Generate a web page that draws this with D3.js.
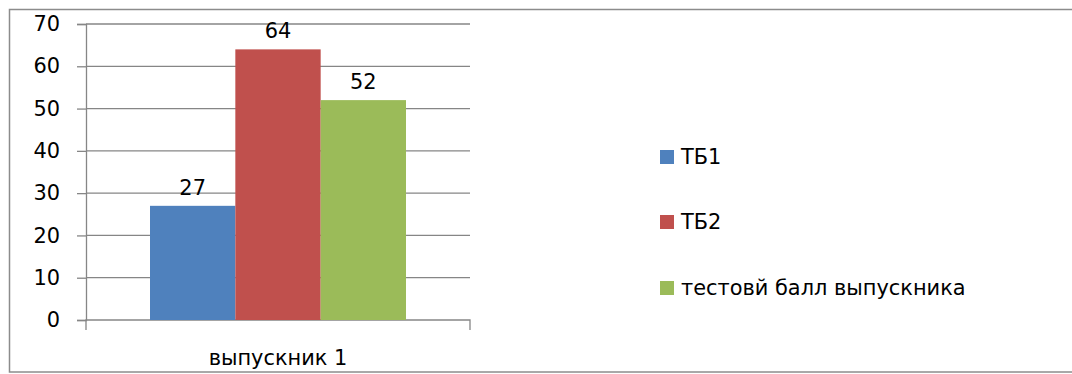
<!DOCTYPE html>
<html>
<head>
<meta charset="utf-8">
<script src="https://cdn.jsdelivr.net/npm/d3@7"></script>
<style>
  html, body { margin: 0; padding: 0; background: #fff; }
  svg { display: block; }
</style>
</head>
<body>
<svg id="chart" width="1072" height="374"></svg>
<script>
// Data
const categories = ["выпускник 1"];
const seriesNames = ["ТБ1", "ТБ2", "тестовй балл выпускника"];
const seriesValues = [27, 64, 52];
const seriesColors = ["#4F81BD", "#C0504D", "#9BBB59"];
const yTicks = [0, 10, 20, 30, 40, 50, 60, 70];

const FONT = "'DejaVu Sans', Verdana, sans-serif";
const FS = 20.9;
const svg = d3.select("#chart");

// Outer frame
svg.append("rect")
  .attr("x", 9.5).attr("y", 9.5)
  .attr("width", 1080).attr("height", 362.5)
  .attr("fill", "#fff")
  .attr("stroke", "#8c8c8c").attr("stroke-width", 1.5);

const plot = { left: 86, right: 470, top: 24, bottom: 320 };

const x = d3.scaleBand().domain(categories).range([plot.left, plot.right]);
// Bars occupy 2/3 of the category band (gap of 150% of a bar width)
const inner = d3.scaleBand().domain(seriesNames)
  .range([x.bandwidth() / 6, x.bandwidth() * 5 / 6]);
const y = d3.scaleLinear().domain([0, 70]).range([plot.bottom, plot.top]);

// Gridlines
svg.append("g").selectAll("line").data(yTicks.filter(d => d > 0)).join("line")
  .attr("x1", plot.left).attr("x2", plot.right)
  .attr("y1", d => y(d)).attr("y2", d => y(d))
  .attr("stroke", "#868686").attr("stroke-width", 1.3);

// Y axis
const yAxis = svg.append("g")
  .attr("transform", `translate(${plot.left},0)`)
  .call(d3.axisLeft(y).tickValues(yTicks).tickSize(9).tickPadding(17));
yAxis.select(".domain").attr("stroke", "#868686").attr("stroke-width", 1.3);
yAxis.selectAll(".tick line").attr("stroke", "#868686").attr("stroke-width", 1.3);
yAxis.selectAll(".tick text")
  .attr("font-family", FONT).attr("font-size", FS).attr("fill", "#000");

// X axis
const xAxis = svg.append("g")
  .attr("transform", `translate(0,${plot.bottom})`)
  .call(d3.axisBottom(x).tickSize(0).tickPadding(30));
xAxis.select(".domain").attr("stroke", "#868686").attr("stroke-width", 1.3)
  .attr("d", `M${plot.left},10V0H${plot.right}V10`);
xAxis.selectAll(".tick text")
  .attr("font-family", FONT).attr("font-size", FS).attr("fill", "#000");

// Bars
const group = svg.append("g");
categories.forEach(cat => {
  const rows = seriesNames.map((s, i) => ({ s, v: seriesValues[i], c: seriesColors[i] }));
  group.selectAll(null).data(rows).join("rect")
    .attr("x", d => x(cat) + inner(d.s))
    .attr("y", d => y(d.v))
    .attr("width", inner.bandwidth())
    .attr("height", d => y(0) - y(d.v))
    .attr("fill", d => d.c);
  group.selectAll(null).data(rows).join("text")
    .attr("x", d => x(cat) + inner(d.s) + inner.bandwidth() / 2)
    .attr("y", d => y(d.v) - 11)
    .attr("text-anchor", "middle")
    .attr("font-family", FONT).attr("font-size", FS).attr("fill", "#000")
    .text(d => d.v);
});

// Legend
const legend = svg.append("g").attr("transform", "translate(660,0)");
const legendY = [157, 222, 288];
const items = legend.selectAll("g").data(seriesNames).join("g")
  .attr("transform", (d, i) => `translate(0,${legendY[i]})`);
items.append("rect")
  .attr("x", 0).attr("y", -7).attr("width", 14).attr("height", 14)
  .attr("fill", (d, i) => seriesColors[i]);
items.append("text")
  .attr("x", 21).attr("y", 0).attr("dy", "0.35em")
  .attr("font-family", FONT).attr("font-size", FS).attr("fill", "#000")
  .text(d => d);
</script>
</body>
</html>
